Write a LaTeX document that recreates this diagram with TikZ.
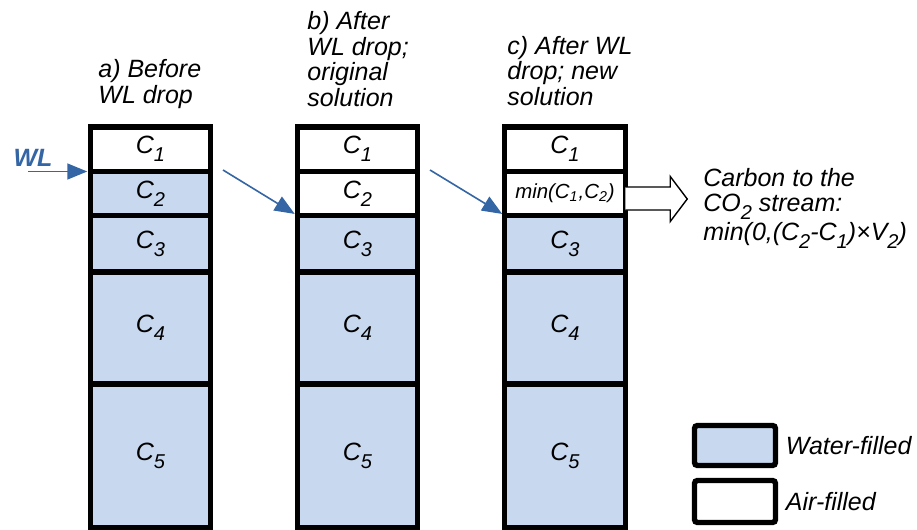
\documentclass[tikz,border=0pt]{standalone}
\usepackage{fontspec}
\setmainfont{Liberation Sans}
\usetikzlibrary{arrows.meta, positioning, calc}
\definecolor{waterblue}{RGB}{200,216,238}
\definecolor{wlblue}{RGB}{52,101,164}
\newcommand{\lowsub}[1]{\raisebox{-0.32em}{\fontsize{10}{10}\selectfont #1}}
\newcommand{\Csub}[1]{C\lowsub{#1}}
\tikzset{%
	cell/.style={draw, line width=2.7pt, minimum width=60.25pt, inner sep=0pt, outer sep=0pt},
	water/.style={fill=waterblue},
	air/.style={fill=white},
	rowa/.style={minimum height=22.25pt},
	rowb/.style={minimum height=22pt},
	rowc/.style={minimum height=28.25pt},
	rowd/.style={minimum height=56pt},
	rowe/.style={minimum height=72pt},
	drop/.style={-{Triangle[length=10pt,width=8pt]}, wlblue, line width=0.8pt, shorten >=1.5pt},
	outflow/.style={draw, fill=white, line width=0.7pt, line join=miter},
	title/.style={align=left, anchor=base west, inner sep=0pt},
	key/.style={draw, line width=2.7pt, rounded corners=1.5pt, minimum width=40.5pt, inner sep=0pt, outer sep=0pt}
}

\begin{document}
\begin{tikzpicture}[x=0.5pt, y=-0.5pt, font=\fontsize{12.5}{12.75}\selectfont\itshape]
	\useasboundingbox (0,0) rectangle (917,530);

	% titles (base = last line)
	\node[title] (ta) at (98,103) {a) Before\\WL drop};
	\node[title] (tb) at (307,106) {b) After\\WL drop;\\original\\solution};
	\node[title] (tc) at (507,105) {c) After WL\\drop; new\\solution};

	% a) before the drop
	\node[cell, air, rowa] (a1) at (150.5,149.25) {\Csub{1}};
	\node[cell, water, rowb, below=0pt of a1] (a2) {\Csub{2}};
	\node[cell, water, rowc, below=0pt of a2] (a3) {\Csub{3}};
	\node[cell, water, rowd, below=0pt of a3] (a4) {\Csub{4}};
	\node[cell, water, rowe, below=0pt of a4] (a5) {\Csub{5}};

	% b) original solution
	\node[cell, air, rowa] (b1) at (357.5,149.25) {\Csub{1}};
	\node[cell, air, rowb, below=0pt of b1] (b2) {\Csub{2}};
	\node[cell, water, rowc, below=0pt of b2] (b3) {\Csub{3}};
	\node[cell, water, rowd, below=0pt of b3] (b4) {\Csub{4}};
	\node[cell, water, rowe, below=0pt of b4] (b5) {\Csub{5}};

	% c) new solution
	\node[cell, air, rowa] (c1) at (565,149.25) {\Csub{1}};
	\node[cell, air, rowb, below=0pt of c1, font=\fontsize{10.2}{11}\selectfont\itshape] (c2) {min(C\textsubscript{1},C\textsubscript{2})};
	\node[cell, water, rowc, below=0pt of c2] (c3) {\Csub{3}};
	\node[cell, water, rowd, below=0pt of c3] (c4) {\Csub{4}};
	\node[cell, water, rowe, below=0pt of c4] (c5) {\Csub{5}};

	% water level
	\node[font=\fontsize{12.5}{12.75}\selectfont\bfseries\itshape, text=wlblue, inner sep=0pt] (wl) at (33,158) {WL};
	\coordinate (wlstart) at (28,171.5);
	\coordinate (bstart) at (223,170);
	\coordinate (cstart) at (430,170);
	\draw[drop] (wlstart) -- (a1.south west);
	\draw[drop] (bstart) -- (b2.south west);
	\draw[drop] (cstart) -- (c2.south west);

	% carbon leaving
	\draw[outflow] ($(c2.east)+(0,-6.5)$) -- ++(45,0) -- ++(0,-10.5) -- ++(17,22.5)
		-- ++(-17,22.5) -- ++(0,-11.5) -- ++(-45,0);
	\node[title] (co2) at (703,240) {Carbon to the\\CO\lowsub{2} stream:\\min(0,(C\lowsub{2}-C\lowsub{1})×V\lowsub{2})};

	% legend
	\node[key, water, minimum height=20pt] (kwater) at (735,445.5) {};
	\node[key, air, minimum height=21pt] (kair) at (735,501.5) {};
	\node[right=5pt of kwater, inner sep=0pt] (lwater) {Water-filled};
	\node[right=5pt of kair, inner sep=0pt] (lair) {Air-filled};
\end{tikzpicture}
\end{document}
